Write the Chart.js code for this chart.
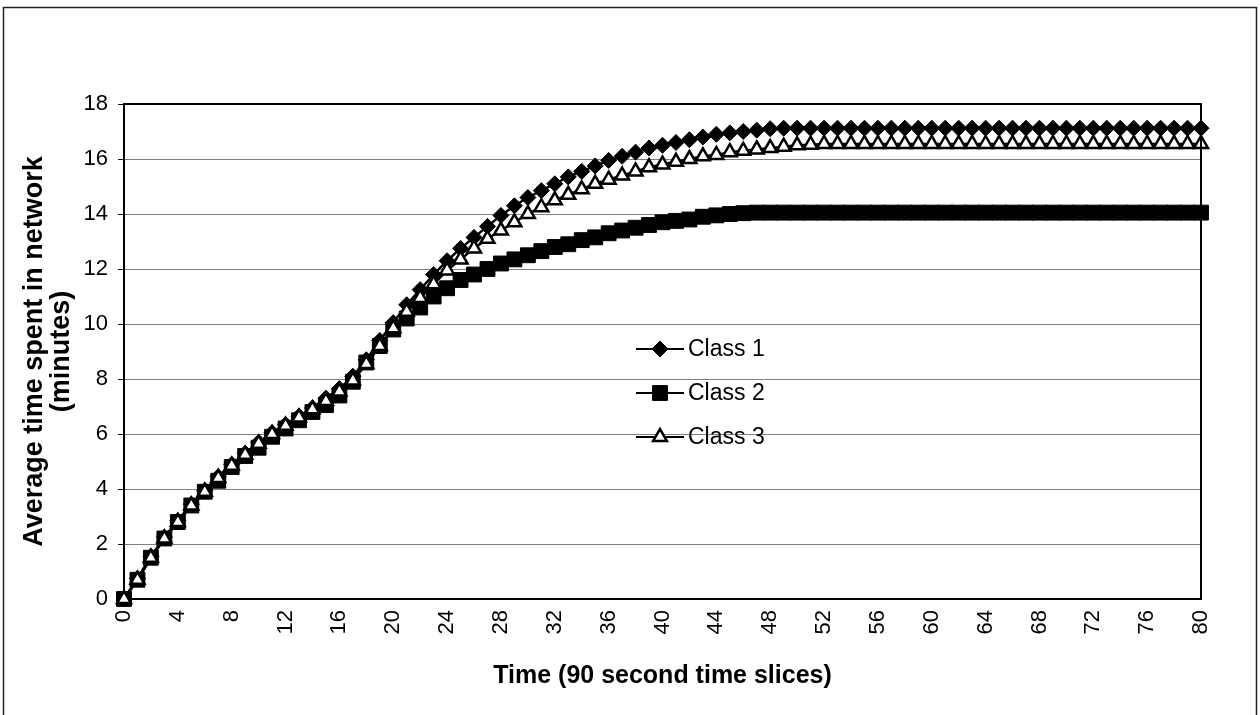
<!DOCTYPE html>
<html>
<head>
<meta charset="utf-8">
<script src="https://cdn.jsdelivr.net/npm/chart.js@4/dist/chart.umd.min.js"></script>
<style>
  html, body { margin: 0; padding: 0; background: #fff; }
  #wrap { width: 1260px; height: 715px; position: relative; }
</style>
</head>
<body>
<div id="wrap"><canvas id="myChart"></canvas></div>
<script>
// time slices 0..80
const timeSlices = [];
for (let t = 0; t <= 80; t++) timeSlices.push(String(t));

const class1 = [0, 0.75, 1.55, 2.25, 2.85, 3.45, 3.95, 4.45, 4.9, 5.3,
  5.7, 6.05, 6.35, 6.65, 6.95, 7.3, 7.65, 8.1, 8.7, 9.4,
  10.05, 10.7, 11.25, 11.8, 12.3, 12.75, 13.15, 13.55, 13.95, 14.3,
  14.6, 14.85, 15.1, 15.35, 15.55, 15.75, 15.95, 16.1, 16.25, 16.4,
  16.5, 16.6, 16.7, 16.8, 16.9, 16.95, 17.0, 17.05, 17.1, 17.12,
  17.12, 17.12, 17.12, 17.12, 17.12, 17.12, 17.12, 17.12, 17.12, 17.12,
  17.12, 17.12, 17.12, 17.12, 17.12, 17.12, 17.12, 17.12, 17.12, 17.12,
  17.12, 17.12, 17.12, 17.12, 17.12, 17.12, 17.12, 17.12, 17.12, 17.12, 17.12];

const class2 = [0, 0.7, 1.5, 2.2, 2.8, 3.4, 3.9, 4.3, 4.8, 5.2,
  5.5, 5.9, 6.2, 6.5, 6.8, 7.05, 7.4, 7.9, 8.6, 9.2,
  9.8, 10.2, 10.6, 11.0, 11.3, 11.6, 11.8, 12.0, 12.2, 12.35,
  12.5, 12.65, 12.8, 12.9, 13.05, 13.15, 13.3, 13.4, 13.5, 13.6,
  13.7, 13.75, 13.8, 13.9, 13.95, 14.0, 14.03, 14.05, 14.05, 14.05,
  14.05, 14.05, 14.05, 14.05, 14.05, 14.05, 14.05, 14.05, 14.05, 14.05,
  14.05, 14.05, 14.05, 14.05, 14.05, 14.05, 14.05, 14.05, 14.05, 14.05,
  14.05, 14.05, 14.05, 14.05, 14.05, 14.05, 14.05, 14.05, 14.05, 14.05, 14.05];

const class3 = [0, 0.7, 1.5, 2.2, 2.8, 3.4, 3.9, 4.4, 4.85, 5.25,
  5.65, 6.0, 6.3, 6.6, 6.9, 7.2, 7.55, 7.95, 8.55, 9.2,
  9.85, 10.45, 10.95, 11.45, 11.95, 12.35, 12.75, 13.1, 13.4, 13.7,
  14.0, 14.25, 14.5, 14.7, 14.9, 15.1, 15.25, 15.4, 15.55, 15.7,
  15.8, 15.9, 16.0, 16.1, 16.15, 16.25, 16.3, 16.35, 16.4, 16.45,
  16.5, 16.52, 16.55, 16.55, 16.55, 16.55, 16.55, 16.55, 16.55, 16.55,
  16.55, 16.55, 16.55, 16.55, 16.55, 16.55, 16.55, 16.55, 16.55, 16.55,
  16.55, 16.55, 16.55, 16.55, 16.55, 16.55, 16.55, 16.55, 16.55, 16.55, 16.55];

const seriesNames = ['Class 1', 'Class 2', 'Class 3'];
const yTicks = [0, 2, 4, 6, 8, 10, 12, 14, 16, 18];

const FONT = "'Liberation Sans', Arial, sans-serif";

// frame, outer border and legend drawn inside the plot
const decor = {
  id: 'decor',
  beforeDraw(chart) {
    const ctx = chart.ctx;
    ctx.save();
    ctx.fillStyle = '#fff';
    ctx.fillRect(0, 0, chart.width, chart.height);
    ctx.strokeStyle = '#222';
    ctx.lineWidth = 1.5;
    ctx.beginPath();
    ctx.moveTo(3.5, 715);
    ctx.lineTo(3.5, 7.5);
    ctx.lineTo(1256.5, 7.5);
    ctx.lineTo(1256.5, 715);
    ctx.stroke();
    ctx.restore();
  },
  afterDatasetsDraw(chart) {
    const ctx = chart.ctx;
    const a = chart.chartArea;
    ctx.save();
    ctx.strokeStyle = '#000';
    ctx.lineWidth = 2;
    ctx.beginPath();
    ctx.moveTo(a.left, a.top);
    ctx.lineTo(a.right, a.top);
    ctx.lineTo(a.right, a.bottom);
    ctx.stroke();

    // legend
    const rowsY = [349, 393, 437];
    chart.data.datasets.forEach((ds, i) => {
      const y = rowsY[i];
      ctx.strokeStyle = '#000';
      ctx.lineWidth = 2;
      ctx.beginPath();
      ctx.moveTo(636, y);
      ctx.lineTo(684, y);
      ctx.stroke();
      ctx.fillStyle = ds.pointBackgroundColor;
      ctx.strokeStyle = '#000';
      ctx.lineWidth = ds.pointBorderWidth;
      Chart.helpers.drawPoint(ctx, {
        pointStyle: ds.pointStyle,
        radius: ds.pointRadius,
        rotation: 0,
        borderWidth: ds.pointBorderWidth
      }, 660, y);
      ctx.fillStyle = '#000';
      ctx.font = '23px ' + FONT;
      ctx.textBaseline = 'middle';
      ctx.textAlign = 'left';
      ctx.fillText(ds.label, 688, y + 1);
    });
    ctx.restore();
  }
};

const ctx = document.getElementById('myChart').getContext('2d');
new Chart(ctx, {
  type: 'line',
  data: {
    labels: timeSlices,
    datasets: [
      {
        label: seriesNames[0],
        data: class1,
        borderColor: '#000',
        borderWidth: 2.5,
        pointStyle: 'rectRot',
        pointRadius: 8,
        pointBackgroundColor: '#000',
        pointBorderColor: '#000',
        pointBorderWidth: 1,
        clip: false,
        order: 3
      },
      {
        label: seriesNames[1],
        data: class2,
        borderColor: '#000',
        borderWidth: 2.5,
        pointStyle: 'rect',
        pointRadius: 10.5,
        pointBackgroundColor: '#000',
        pointBorderColor: '#000',
        pointBorderWidth: 1,
        clip: false,
        order: 2
      },
      {
        label: seriesNames[2],
        data: class3,
        borderColor: '#000',
        borderWidth: 2.5,
        pointStyle: 'triangle',
        pointRadius: 8,
        pointBackgroundColor: '#fff',
        pointBorderColor: '#000',
        pointBorderWidth: 2.5,
        clip: false,
        order: 1
      }
    ]
  },
  options: {
    responsive: true,
    maintainAspectRatio: false,
    animation: false,
    events: [],
    layout: { padding: { top: 104, right: 59, bottom: 0, left: 0 } },
    plugins: {
      legend: { display: false },
      tooltip: { enabled: false }
    },
    scales: {
      x: {
        offset: false,
        grid: { display: false, drawTicks: false },
        border: { display: true, color: '#000', width: 2 },
        ticks: {
          autoSkip: false,
          minRotation: 90,
          maxRotation: 90,
          padding: 11,
          color: '#000',
          font: { family: FONT, size: 22 },
          callback: function (val, idx) {
            return idx % 4 === 0 ? this.getLabelForValue(val) : '';
          }
        },
        title: {
          display: true,
          text: 'Time (90 second time slices)',
          color: '#000',
          font: { family: FONT, size: 25, weight: 'bold' },
          padding: { top: 4, bottom: 24 }
        },
        afterFit(scale) { scale.height = 116; }
      },
      y: {
        min: 0,
        max: 18,
        afterBuildTicks(scale) {
          scale.ticks = yTicks.map(v => ({ value: v }));
        },
        grid: {
          color: '#808080',
          lineWidth: 1,
          drawTicks: true,
          tickLength: 6,
          tickColor: '#000'
        },
        border: { display: true, color: '#000', width: 2 },
        ticks: {
          padding: 10,
          color: '#000',
          font: { family: FONT, size: 22 }
        },
        title: {
          display: true,
          text: ['Average time spent in network', '(minutes)'],
          color: '#000',
          font: { family: FONT, size: 27, weight: 'bold', lineHeight: 1.0 },
          padding: { top: 21, bottom: 0 }
        },
        afterFit(scale) { scale.width = 124; }
      }
    }
  },
  plugins: [decor]
});
</script>
</body>
</html>
